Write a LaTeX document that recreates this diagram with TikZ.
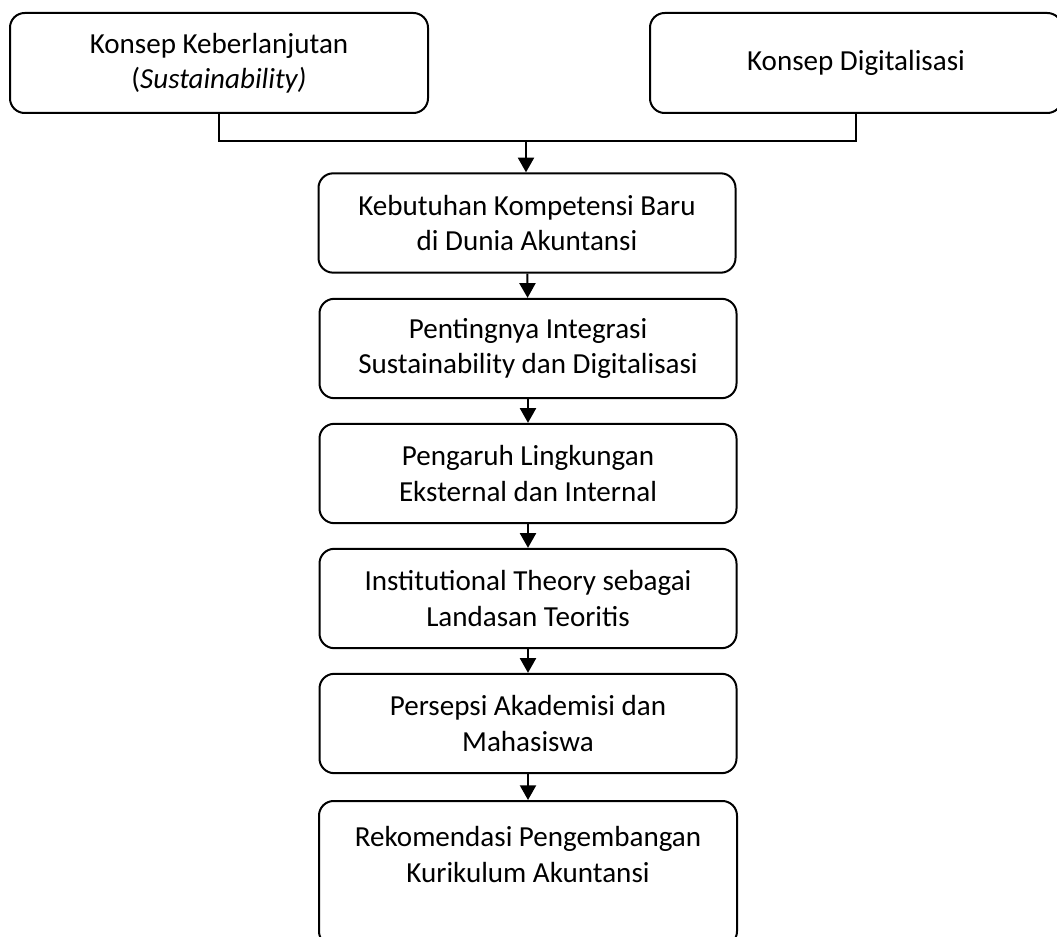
\documentclass[tikz,border=0pt]{standalone}
\usepackage{fontspec}
\setmainfont{Carlito}
\usetikzlibrary{arrows.meta}
\begin{document}
\begin{tikzpicture}[x=0.75pt,y=-0.75pt,
  box/.style={draw, line width=1.5pt, rounded corners=11pt, align=center,
    font=\fontsize{21.8pt}{26.6pt}\selectfont, inner sep=0pt},
  midbox/.style={box, minimum width=312.75pt, minimum height=74.5pt},
  line/.style={line width=1.5pt},
  arr/.style={line width=1.5pt, -{Triangle[width=12pt,length=11pt]}}]
\useasboundingbox (0,0) rectangle (1057,937);
\node[box, minimum width=313.5pt, minimum height=75pt] (L) at (219,63)
  {Konsep Keberlanjutan\\(\textit{Sustainability)}};
\node[box, minimum width=309pt, minimum height=75pt] (R) at (856,63)
  {Konsep Digitalisasi};
\coordinate (j) at (526,141);
\node[midbox] (b2) at (527,223) {Kebutuhan Kompetensi Baru\\di Dunia Akuntansi};
\node[midbox] (b3) at (528,348.5) {Pentingnya Integrasi\\Sustainability dan Digitalisasi};
\node[midbox] (b4) at (528,473.5) {Pengaruh Lingkungan\\Eksternal dan Internal};
\node[midbox] (b5) at (528,598.5) {Institutional Theory sebagai\\Landasan Teoritis};
\node[midbox] (b6) at (528,723.5) {Persepsi Akademisi dan\\Mahasiswa};
\node[box, minimum width=313.5pt, minimum height=108.75pt, anchor=north] (b7) at (528,800)
  {\raisebox{12pt}[\height][\depth]{\begin{tabular}{@{}c@{}}Rekomendasi Pengembangan\\Kurikulum Akuntansi\end{tabular}}};
\draw[line] (L.south) -- (L.south |- j) -- (R.south |- j) -- (R.south);
\draw[arr] (j) -- (b2.north -| j);
\draw[arr] (b2) -- (b3);
\draw[arr] (b3) -- (b4);
\draw[arr] (b4) -- (b5);
\draw[arr] (b5) -- (b6);
\draw[arr] (b6) -- (b7);
\end{tikzpicture}
\end{document}
